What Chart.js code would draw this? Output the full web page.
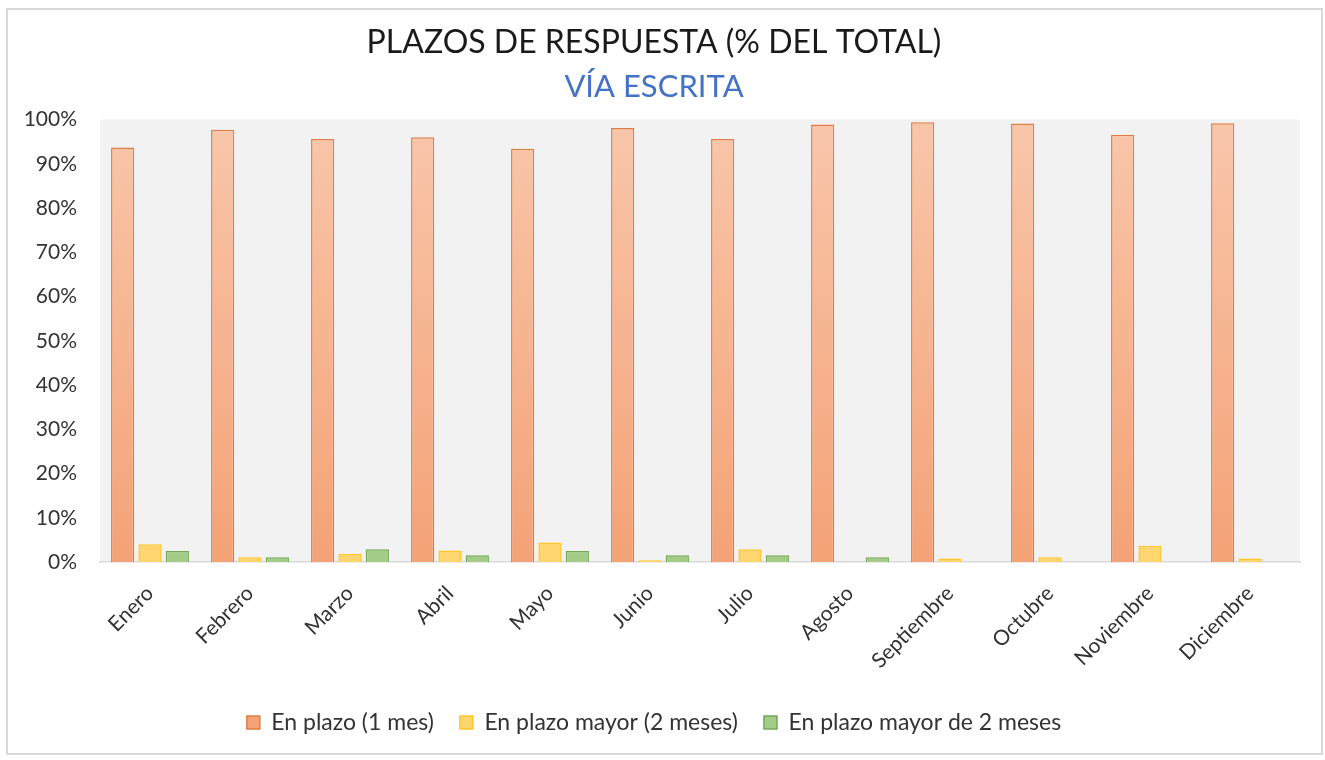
<!DOCTYPE html>
<html>
<head>
<meta charset="utf-8">
<script src="https://cdn.jsdelivr.net/npm/chart.js@4.4.0/dist/chart.umd.min.js"></script>
<style>
    body { margin: 0; background: #fff; }
    #wrap { position: relative; width: 1325px; height: 760px; }
    #frame {
        position: absolute; left: 6px; top: 8px; width: 1313px; height: 743px;
        border: 2px solid #d9d9d9; pointer-events: none;
    }
</style>
</head>
<body>
<div id="wrap">
    <canvas id="plazosChart" width="1325" height="760"></canvas>
    <div id="frame"></div>
</div>
<script>
// Months (x axis)
const months = ['Enero', 'Febrero', 'Marzo', 'Abril', 'Mayo', 'Junio', 'Julio',
    'Agosto', 'Septiembre', 'Octubre', 'Noviembre', 'Diciembre'];

// Series values, % of total
const enPlazo1Mes = [93.7, 97.7, 95.6, 96.0, 93.4, 98.1, 95.6, 98.9, 99.4, 99.1, 96.6, 99.2];
const enPlazoMayor2Meses = [4.0, 1.1, 1.8, 2.6, 4.4, 0.4, 2.9, 0, 0.8, 1.1, 3.7, 0.8];
const enPlazoMayorDe2Meses = [2.5, 1.1, 2.9, 1.5, 2.5, 1.5, 1.5, 1.1, 0, 0, 0, 0];

// Y tick values
const yTicks = [0, 10, 20, 30, 40, 50, 60, 70, 80, 90, 100];

const FONT = 'Lato, "Open Sans", sans-serif';

// Vertical gradient over the plot area, like the Excel fill
function gradient(top, bottom) {
    return function (context) {
        const area = context.chart.chartArea;
        if (!area) return bottom;
        const g = context.chart.ctx.createLinearGradient(0, area.top, 0, area.bottom);
        g.addColorStop(0, top);
        g.addColorStop(1, bottom);
        return g;
    };
}

// Hide border on empty bars
function borderFor(context) {
    return context.raw ? 1.5 : 0;
}

// Grey plot background
const plotBackground = {
    id: 'plotBackground',
    beforeDraw(chart) {
        const { ctx, chartArea } = chart;
        ctx.save();
        ctx.fillStyle = '#f2f2f2';
        ctx.fillRect(chartArea.left, chartArea.top, chartArea.right - chartArea.left, chartArea.bottom - chartArea.top);
        ctx.restore();
    }
};

Chart.defaults.font.family = FONT;

new Chart(document.getElementById('plazosChart'), {
    type: 'bar',
    data: {
        labels: months,
        datasets: [
            {
                label: 'En plazo (1 mes)',
                data: enPlazo1Mes,
                backgroundColor: gradient('#f9c6aa', '#f4a276'),
                borderColor: '#e07e46',
                borderWidth: borderFor
            },
            {
                label: 'En plazo mayor (2 meses)',
                data: enPlazoMayor2Meses,
                backgroundColor: gradient('#ffe6a6', '#ffd56e'),
                borderColor: '#ffc527',
                borderWidth: borderFor
            },
            {
                label: 'En plazo mayor de 2 meses',
                data: enPlazoMayorDe2Meses,
                backgroundColor: gradient('#c3dfb0', '#a3cc88'),
                borderColor: '#74a954',
                borderWidth: borderFor
            }
        ]
    },
    options: {
        responsive: false,
        animation: false,
        categoryPercentage: 0.82,
        barPercentage: 0.85,
        layout: {
            padding: { left: 8, right: 25, top: 8, bottom: 16 }
        },
        scales: {
            x: {
                grid: { display: false, drawTicks: false },
                border: { display: true, color: '#d9d9d9', width: 1.5 },
                ticks: {
                    color: '#333',
                    font: { size: 21 },
                    minRotation: 45,
                    maxRotation: 45,
                    padding: 19
                },
                afterFit: scale => { scale.height = 123; }
            },
            y: {
                min: 0,
                max: 100,
                afterBuildTicks: scale => { scale.ticks = yTicks.map(v => ({ value: v })); },
                grid: { display: false, drawTicks: false },
                border: { display: false },
                ticks: {
                    color: '#333',
                    font: { size: 21 },
                    padding: 23,
                    callback: v => v + '%'
                },
                afterFit: scale => { scale.width = 92; }
            }
        },
        plugins: {
            title: {
                display: true,
                text: 'PLAZOS DE RESPUESTA (% DEL TOTAL)',
                color: '#1a1a1a',
                font: { size: 32, weight: 'normal' },
                padding: { top: 15, bottom: 0 }
            },
            subtitle: {
                display: true,
                text: 'VÍA ESCRITA',
                color: '#4472c4',
                font: { size: 31, weight: 'normal' },
                padding: { top: 7, bottom: 14 }
            },
            legend: {
                position: 'bottom',
                labels: {
                    color: '#333',
                    font: { size: 23 },
                    boxWidth: 13,
                    boxHeight: 13,
                    padding: 26
                }
            },
            tooltip: { enabled: false }
        }
    },
    plugins: [plotBackground]
});
</script>
</body>
</html>
